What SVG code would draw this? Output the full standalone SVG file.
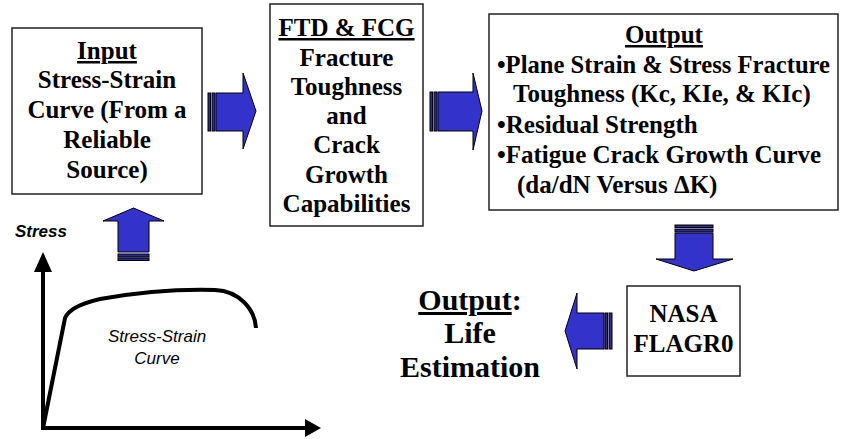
<svg xmlns="http://www.w3.org/2000/svg" width="851" height="439" viewBox="0 0 851 439">
<style>
.box{fill:#fff;stroke:#222;stroke-width:1.5}
.t{font-family:'Liberation Serif',serif;font-weight:bold;font-size:25px;fill:#000}
.c{text-anchor:middle}
.big{font-size:30px}
.u{text-decoration:underline}
.arr{fill:#3333cc;stroke:#000;stroke-width:1}
.st{fill:#2a2a99;stroke:#000;stroke-width:1}
.ax{stroke:#000;stroke-width:4;fill:none}
.sans{font-family:'Liberation Sans',sans-serif;font-style:italic;font-size:17px;fill:#000}
</style>
<rect width="851" height="439" fill="#fff"/>
<g id="input">
<rect class="box" x="12" y="28" width="190" height="166"/>
<text class="t c" x="107" y="59"><tspan class="u">Input</tspan></text>
<text class="t c" x="107" y="88">Stress-Strain</text>
<text class="t c" x="107" y="118">Curve (From a</text>
<text class="t c" x="107" y="148">Reliable</text>
<text class="t c" x="107" y="178">Source)</text>
</g>
<g id="ftd">
<rect class="box" x="270" y="4" width="153" height="222"/>
<text class="t c" x="346.5" y="36"><tspan class="u">FTD &amp; FCG</tspan></text>
<text class="t c" x="346.5" y="66">Fracture</text>
<text class="t c" x="346.5" y="95">Toughness</text>
<text class="t c" x="346.5" y="124">and</text>
<text class="t c" x="346.5" y="153">Crack</text>
<text class="t c" x="346.5" y="183">Growth</text>
<text class="t c" x="346.5" y="212">Capabilities</text>
</g>
<g id="output">
<rect class="box" x="489" y="14" width="349" height="196"/>
<text class="t c" x="664" y="43"><tspan class="u">Output</tspan></text>
<text class="t" x="497" y="73" textLength="333" lengthAdjust="spacingAndGlyphs">•Plane Strain &amp; Stress Fracture</text>
<text class="t" x="513" y="102">Toughness (Kc, KIe, &amp; KIc)</text>
<text class="t" x="497" y="133">•Residual Strength</text>
<text class="t" x="497" y="163">•Fatigue Crack Growth Curve</text>
<text class="t" x="517" y="193">(da/dN Versus ΔK)</text>
</g>
<g id="nasa">
<rect class="box" x="627" y="286" width="113" height="90"/>
<text class="t c" x="683.5" y="322">NASA</text>
<text class="t c" x="683.5" y="352">FLAGR0</text>
</g>
<g id="life">
<text class="t big c" x="470" y="310"><tspan class="u">Output</tspan>:</text>
<text class="t big c" x="470" y="343">Life</text>
<text class="t big c" x="470" y="377">Estimation</text>
</g>
<g id="graph">
<text class="sans" x="15" y="237" font-weight="bold">Stress</text>
<line class="ax" x1="43" y1="430" x2="43" y2="268"/>
<polygon points="43,252 34,272 52,272" fill="#000"/>
<line class="ax" x1="41" y1="428" x2="306" y2="428"/>
<polygon points="321,428 305,419 305,437" fill="#000"/>
<path class="ax" stroke-width="3" d="M43 428 L65 318 Q70 306 100 299 C140 292 180 289 215 290 C240 291 255 310 256 328"/>
<text class="sans" text-anchor="middle" x="157" y="342">Stress-Strain</text>
<text class="sans" text-anchor="middle" x="157" y="364">Curve</text>
</g>
<g id="connectors">
<g id="arrow-input-ftd">
<rect class="st" x="208" y="93" width="2.5" height="38"/>
<rect class="st" x="212" y="93" width="3" height="38"/>
<polygon class="arr" points="216,93 243,93 243,73 256,111 243,149 243,131 216,131"/>
</g>
<g id="arrow-ftd-output">
<rect class="st" x="430" y="92" width="2.5" height="39"/>
<rect class="st" x="434" y="92" width="3" height="39"/>
<polygon class="arr" points="438,92 473,92 473,73 482,111 473,150 473,131 438,131"/>
</g>
<g id="arrow-graph-input">
<rect class="st" x="118" y="258" width="31" height="2.5"/>
<rect class="st" x="118" y="254" width="31" height="3"/>
<polygon class="arr" points="118,252 118,221 103,221 133.5,208 164,221 149,221 149,252"/>
</g>
<g id="arrow-output-nasa">
<rect class="st" x="675" y="225" width="38" height="2.5"/>
<rect class="st" x="675" y="229" width="38" height="3"/>
<polygon class="arr" points="675,233 713,233 713,259 733,259 694,271 656,259 675,259"/>
</g>
<g id="arrow-nasa-life">
<rect class="st" x="609" y="313" width="3" height="36"/>
<rect class="st" x="605" y="313" width="2.5" height="36"/>
<polygon class="arr" points="604,313 604,349 577,349 577,369 565,331 577,293 577,313"/>
</g>
</g>
</svg>
